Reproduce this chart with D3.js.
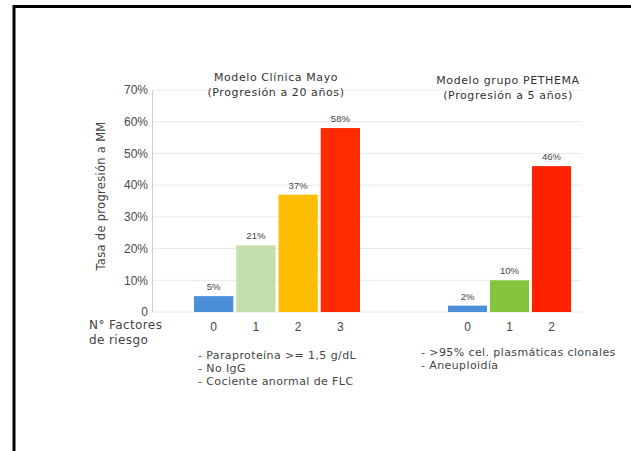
<!DOCTYPE html>
<html><head><meta charset="utf-8">
<script src="https://cdn.jsdelivr.net/npm/d3@7"></script>
<style>body{margin:0;background:#fff}svg{display:block}</style>
</head><body>
<svg id="c" width="631" height="451"></svg>
<script>
const yTicks = [0,10,20,30,40,50,60,70];
const mayoCats = ["0","1","2","3"];
const mayoVals = [5,21,37,58];
const mayoColors = ["#4a8fd8","#c4deaf","#ffbe00","#ff2a00"];
const pethCats = ["0","1","2"];
const pethVals = [2,10,46];
const pethColors = ["#4a8fd8","#86c43c","#ff2200"];
const mayoTitle = ["Modelo Clínica Mayo","(Progresión a 20 años)"];
const pethTitle = ["Modelo grupo PETHEMA","(Progresión a 5 años)"];
const mayoNotes = ["- Paraproteína >= 1,5 g/dL","- No IgG","- Cociente anormal de FLC"];
const pethNotes = ["- >95% cel. plasmáticas clonales","- Aneuploidía"];
const yLabel = "Tasa de progresión a MM";
const xLabel = ["N° Factores","de riesgo"];

const svg = d3.select("#c");
const font = "'Liberation Sans', Arial, sans-serif";
const wide = "'DejaVu Sans', Verdana, sans-serif";
svg.attr("font-family", font);

// frame
svg.append("path").attr("d","M14,452 L14,6.5 L632,6.5").attr("fill","none").attr("stroke","#000").attr("stroke-width",3);

const y = d3.scaleLinear().domain([0,70]).range([312,90]);
const axisX = 152;

// gridlines
svg.append("g").selectAll("line").data(yTicks).join("line")
  .attr("x1",axisX).attr("x2",582)
  .attr("y1",d=>y(d)).attr("y2",d=>y(d))
  .attr("stroke","#e8e8e8").attr("stroke-width",1);

// y axis
const yAxis = d3.axisLeft(y).tickValues(yTicks).tickSize(0).tickPadding(4)
  .tickFormat(d=> d===0 ? "0" : d+"%");
const ga = svg.append("g").attr("transform",`translate(${axisX},0)`).call(yAxis);
ga.select(".domain").attr("stroke","#cfcfcf");
ga.selectAll("text").attr("font-size",12).attr("fill","#4a4a4a").attr("font-family",font);

svg.append("text").attr("transform","translate(105,196) rotate(-90)")
  .attr("text-anchor","middle").attr("font-family",wide).attr("font-size",11.5)
  .attr("letter-spacing",0.3).attr("fill","#444").text(yLabel);

function panel(cats, vals, colors, range, title, titleX, titleY, notes, notesX, notesY){
  const x = d3.scaleBand().domain(cats).range(range).paddingInner(0.07).paddingOuter(0);
  const g = svg.append("g");
  g.selectAll("rect").data(vals).join("rect")
    .attr("x",(d,i)=>x(cats[i])).attr("width",x.bandwidth())
    .attr("y",d=>y(d)).attr("height",d=>y(0)-y(d))
    .attr("fill",(d,i)=>colors[i]);
  g.selectAll("text.v").data(vals).join("text").attr("class","v")
    .attr("x",(d,i)=>x(cats[i])+x.bandwidth()/2).attr("y",d=>y(d)-6)
    .attr("text-anchor","middle").attr("font-size",9.5).attr("fill","#444")
    .text(d=>d+"%");
  const xa = d3.axisBottom(x).tickSize(0).tickPadding(10);
  const gx = svg.append("g").attr("transform",`translate(0,${y(0)})`).call(xa);
  gx.select(".domain").remove();
  gx.selectAll("text").attr("font-size",12).attr("fill","#444").attr("font-family",font);
  svg.append("g").selectAll("text").data(title).join("text")
    .attr("x",titleX).attr("y",(d,i)=>titleY+i*15)
    .attr("text-anchor","middle").attr("font-family",wide).attr("font-size",11)
    .attr("letter-spacing",0.6).attr("fill","#333").text(d=>d);
  svg.append("g").selectAll("text").data(notes).join("text")
    .attr("x",notesX).attr("y",(d,i)=>notesY+i*13)
    .attr("font-family",wide).attr("font-size",11).attr("letter-spacing",0.4)
    .attr("fill","#444").text(d=>d);
}
panel(mayoCats, mayoVals, mayoColors, [194,360], mayoTitle, 276, 81, mayoNotes, 198, 359);
panel(pethCats, pethVals, pethColors, [448,571], pethTitle, 508, 84, pethNotes, 421, 356);

svg.append("g").selectAll("text").data(xLabel).join("text")
  .attr("x",89).attr("y",(d,i)=>329+i*15)
  .attr("font-family",wide).attr("font-size",12).attr("letter-spacing",0.4)
  .attr("fill","#444").text(d=>d);
</script>
</body></html>
